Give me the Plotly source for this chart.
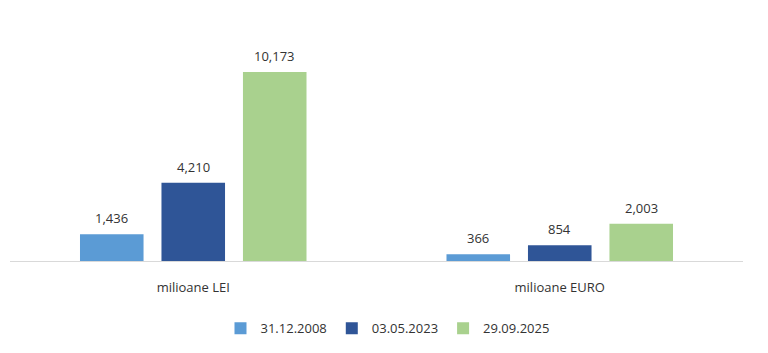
import plotly.graph_objects as go

categories = ["milioane LEI", "milioane EURO"]
series_names = ["31.12.2008", "03.05.2023", "29.09.2025"]
values_2008 = [1436, 366]
values_2023 = [4210, 854]
values_2025 = [10173, 2003]
label_2008 = ["1,436", "366"]
label_2023 = ["4,210", "854"]
label_2025 = ["10,173", "2,003"]

colors = ["#5B9BD5", "#2F5597", "#A9D18E"]
FONT = "Open Sans"
TXT = "#333333"
BARGAP = 0.333
GROUPGAP = 0.22

all_values = [values_2008, values_2023, values_2025]
all_labels = [label_2008, label_2023, label_2025]
xs = list(range(len(categories)))

fig = go.Figure()
for name, vals, col in zip(series_names, all_values, colors):
    fig.add_trace(go.Bar(x=xs, y=vals, name=name, marker=dict(color=col, line=dict(width=0)),
                         hoverinfo="skip"))

slot = (1 - BARGAP) / len(series_names)
annotations = []
for i, (vals, labs) in enumerate(zip(all_values, all_labels)):
    off = (i - (len(series_names) - 1) / 2) * slot
    for j, (v, t) in enumerate(zip(vals, labs)):
        annotations.append(dict(x=xs[j] + off, y=v, text=t, showarrow=False,
                                xref="x", yref="y", yanchor="middle", yshift=16,
                                font=dict(family=FONT, size=13, color=TXT)))

fig.update_layout(
    width=768, height=353,
    margin=dict(l=10, r=25, t=38, b=90),
    paper_bgcolor="white", plot_bgcolor="white",
    barmode="group", bargap=BARGAP, bargroupgap=GROUPGAP,
    font=dict(family=FONT, size=13, color=TXT),
    annotations=annotations,
    showlegend=True,
    legend=dict(orientation="h", x=0.515, xanchor="center", y=-0.235, yanchor="top",
                font=dict(family=FONT, size=13, color=TXT), itemwidth=30,
                traceorder="normal"),
    xaxis=dict(range=[-0.5, 1.5], tickmode="array", tickvals=xs, ticktext=categories,
               showline=True, linecolor="#D9D9D9", linewidth=1, showgrid=False,
               zeroline=False, ticks="outside", ticklen=14, tickcolor="rgba(0,0,0,0)",
               tickfont=dict(family=FONT, size=13, color=TXT)),
    yaxis=dict(range=[0, 12000], visible=False, showgrid=False, zeroline=False),
)

fig.write_html("out.html")
